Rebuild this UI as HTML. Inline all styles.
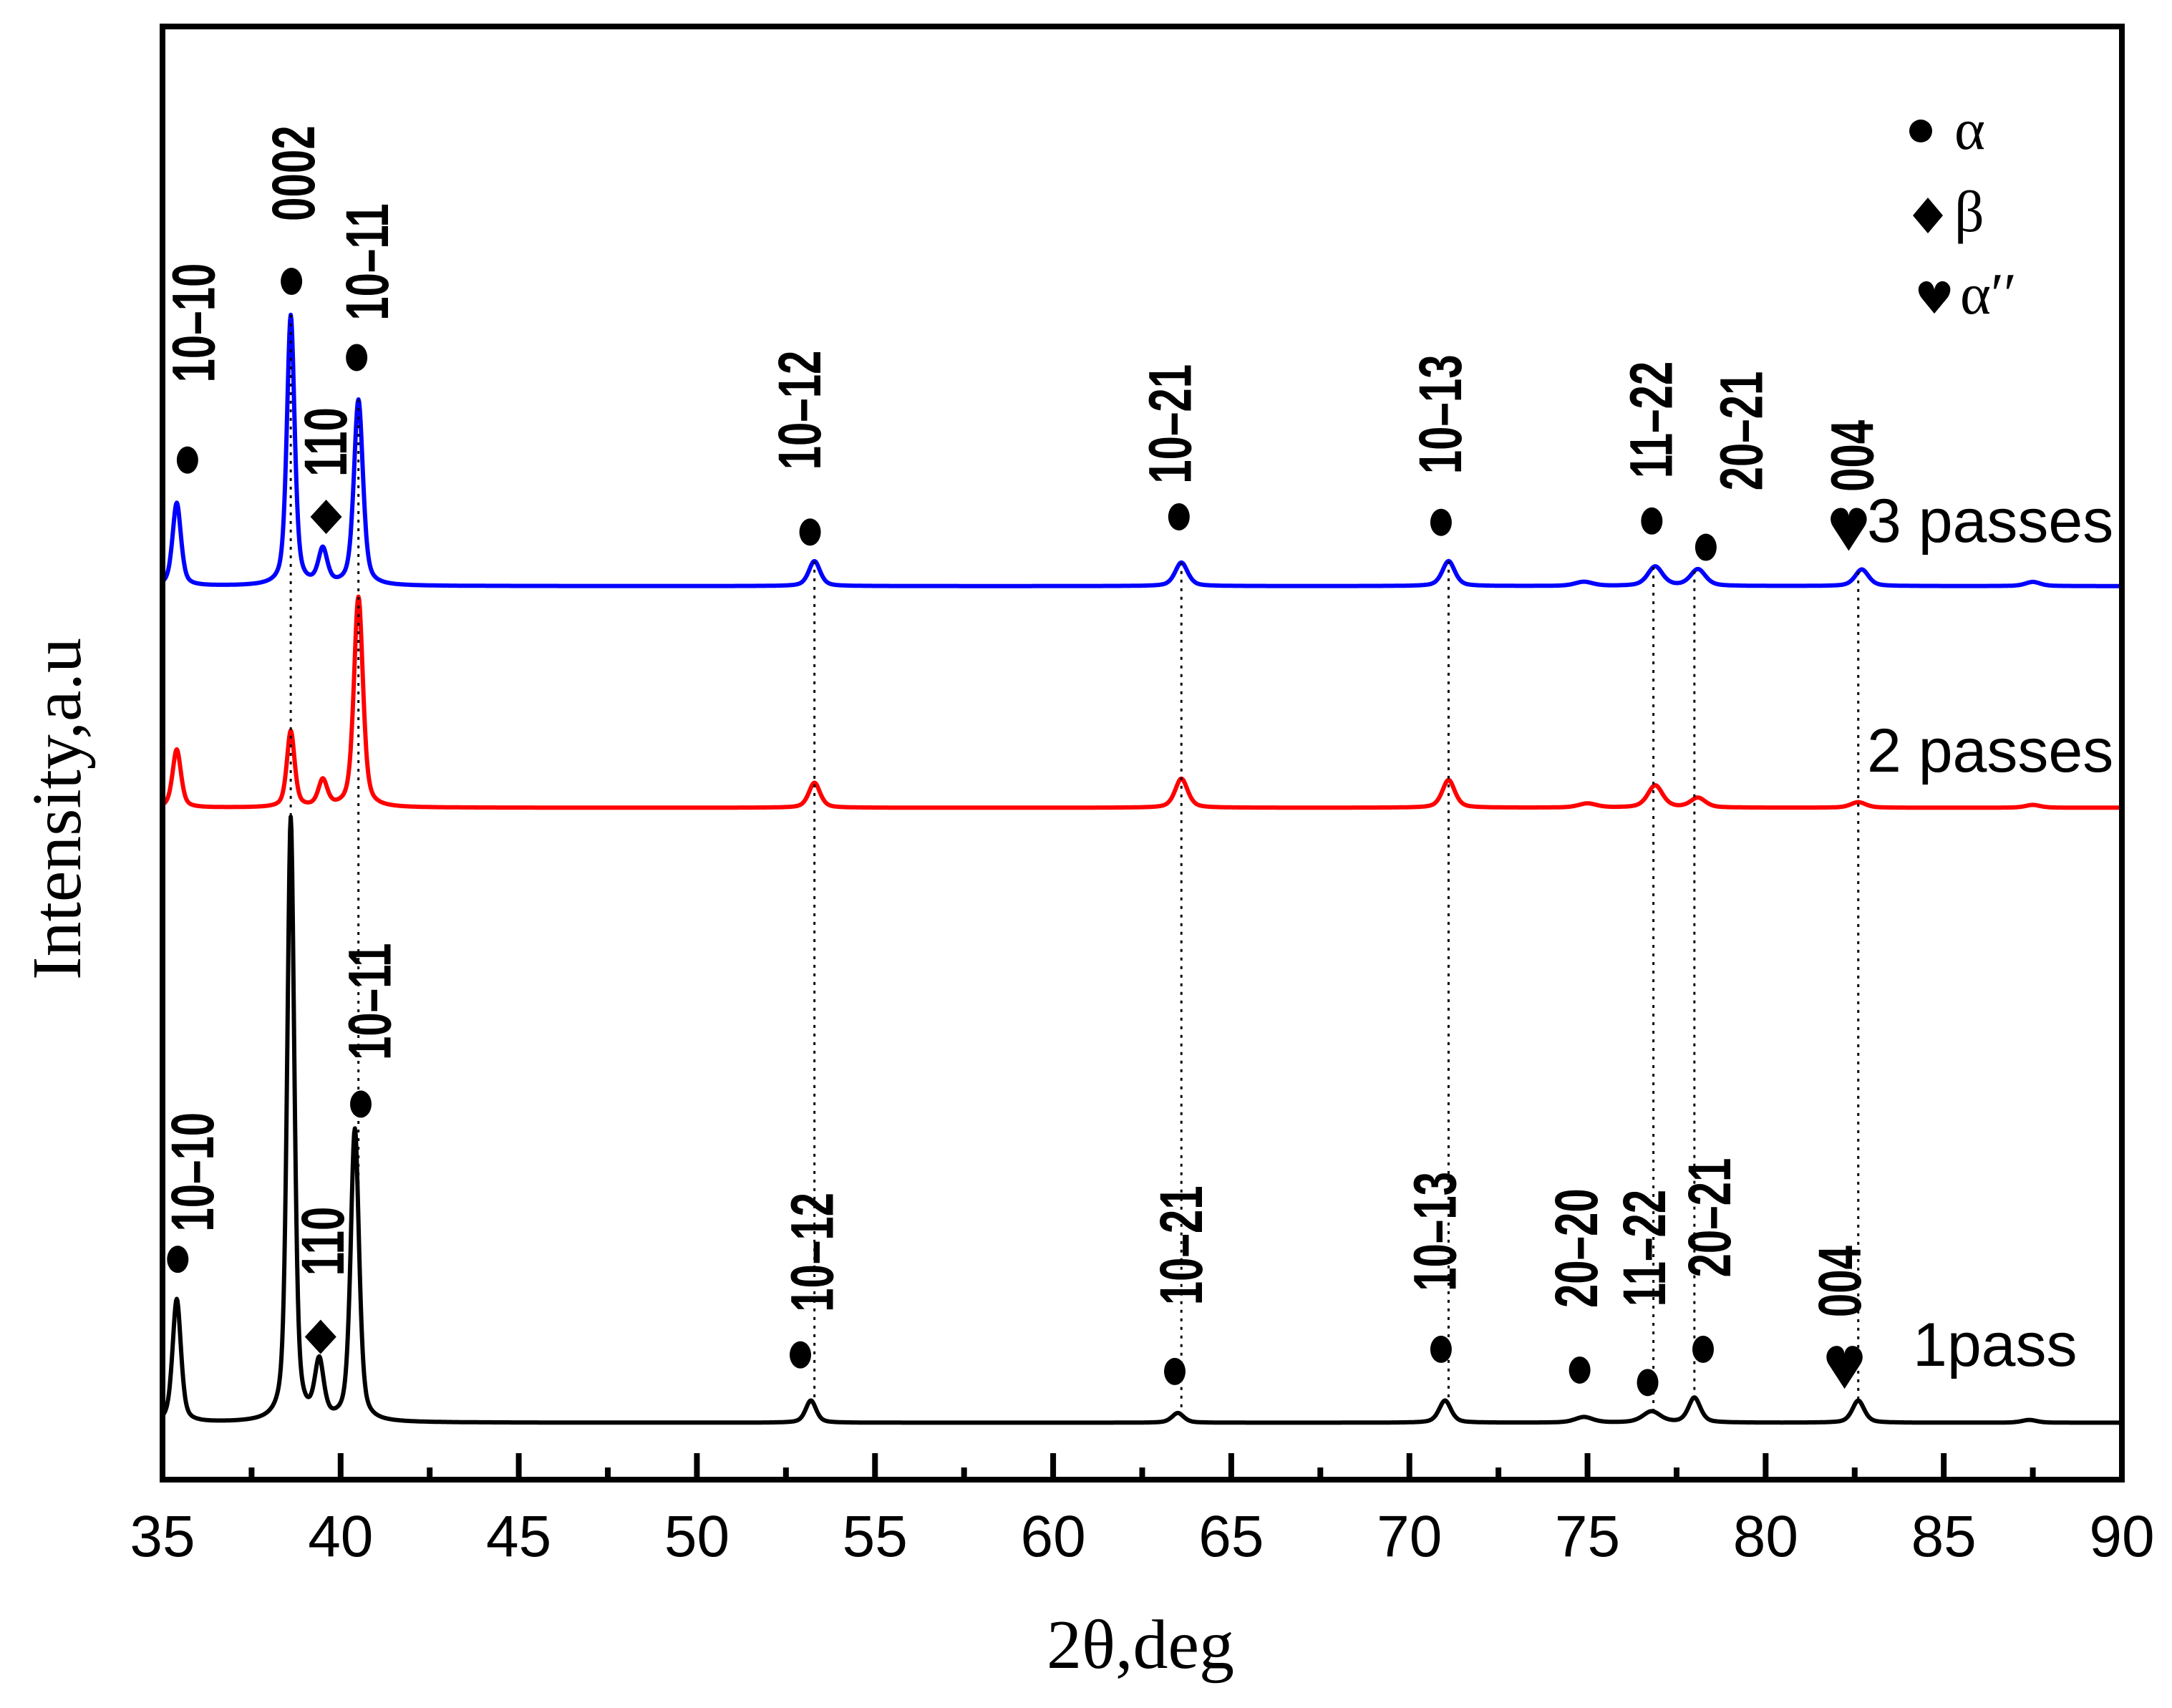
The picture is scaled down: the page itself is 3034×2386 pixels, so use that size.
<!DOCTYPE html>
<html><head><meta charset="utf-8"><style>
html,body{margin:0;padding:0;background:#fff;}
svg{display:block;}
</style></head><body>
<svg id="chart" xmlns="http://www.w3.org/2000/svg" width="3034" height="2386" viewBox="0 0 3034 2386">
<rect x="0" y="0" width="3034" height="2386" fill="#fff"/>
<g id="curves"></g>
<g id="dots"></g>
<g id="annot"></g>
<rect x="227" y="37" width="2737" height="2030" fill="none" stroke="#000" stroke-width="8"/>
<g id="xaxis"></g>
<text x="1593" y="2330" font-family="Liberation Serif, serif" font-size="98" text-anchor="middle">2θ,deg</text>
<text transform="translate(112,1130) rotate(-90)" font-family="Liberation Serif, serif" font-size="98" text-anchor="middle">Intensity,a.u</text>
<g>
<g>
<circle cx="2683" cy="183" r="16" fill="#000"/>
<text x="2730" y="208" font-family="Liberation Serif, serif" font-size="82">α</text></g>
<g>
<path d="M2693 276 L2714 301 L2693 326 L2672 301 Z" fill="#000"/>
<text x="2730" y="323" font-family="Liberation Serif, serif" font-size="82">β</text></g>
<g>
<text x="2702" y="438" font-family="DejaVu Sans, sans-serif" font-size="62" text-anchor="middle">♥</text>
<text x="2738" y="438" font-family="Liberation Serif, serif" font-size="82">α′′</text></g>
</g>
<text x="2608" y="757" font-family="Liberation Sans, sans-serif" font-size="86">3 passes</text>
<text x="2608" y="1078" font-family="Liberation Sans, sans-serif" font-size="86">2 passes</text>
<text x="2672" y="1908" font-family="Liberation Sans, sans-serif" font-size="86">1pass</text>
</svg>
<script>
// x-axis
const xTicks = [35,40,45,50,55,60,65,70,75,80,85,90];
// peak data per series (2theta, height in a.u., FWHM in deg)
const peakPos1 = [35.4,38.6,39.4,40.4,53.2,63.5,71.0,74.9,76.8,78.0,82.6,87.4];
const peakH1   = [89,436,41,211,16,7,16,4,8,18,16,2];
const peakW1   = [0.28,0.24,0.3,0.28,0.35,0.4,0.4,0.6,0.6,0.4,0.4,0.5];
const peakPos2 = [35.4,38.6,39.5,40.5,53.3,63.6,71.1,75.0,76.9,78.1,82.6,87.5];
const peakH2   = [42,55,19,152,18,21,20,3,16,7,4,2];
const peakW2   = [0.28,0.26,0.3,0.3,0.38,0.42,0.42,0.6,0.5,0.5,0.5,0.5];
const peakPos3 = [35.4,38.6,39.5,40.5,53.3,63.6,71.1,74.9,76.9,78.1,82.7,87.5];
const peakH3   = [60,195,25,134,18,17,18,3,14,12,12,3];
const peakW3   = [0.28,0.26,0.3,0.3,0.38,0.42,0.42,0.6,0.5,0.5,0.45,0.5];
const baselines = [1026,582,422]; // display-units baseline offsets per series
const colors = ['#000','#ff0000','#0000ff'];
const refLines = [38.6,40.5,53.3,63.6,71.1,76.85,78.0,82.6];

const X0=227, X1=2964, XMIN=35, XMAX=90;
function xS(v){return X0+(v-XMIN)*(X1-X0)/(XMAX-XMIN);}
function yD(d){return 37+(d-18)*1.935;}
function profile(pos,h,w,x){let s=0;for(let i=0;i<pos.length;i++){const t=(x-pos[i])/(w[i]/2);s+=h[i]*(0.5/(1+t*t)+0.5*Math.exp(-0.693*t*t));}return s;}
const series=[[peakPos1,peakH1,peakW1],[peakPos2,peakH2,peakW2],[peakPos3,peakH3,peakW3]];
const NS='http://www.w3.org/2000/svg';
function val(si,x){const s=series[si];return yD(baselines[si]-profile(s[0],s[1],s[2],x));}
const cg=document.getElementById('curves');
const names=['curve-1-pass','curve-2-passes','curve-3-passes'];
for(let si=0;si<3;si++){
  let d='';
  for(let x=XMIN;x<=XMAX+1e-9;x+=0.02){d+=(d?'L':'M')+xS(x).toFixed(1)+' '+val(si,x).toFixed(1);}
  const p=document.createElementNS(NS,'path');
  p.setAttribute('d',d);p.setAttribute('fill','none');p.setAttribute('stroke',colors[si]);
  p.setAttribute('stroke-width','6');p.setAttribute('stroke-linejoin','round');
  
  
  cg.appendChild(p);
}
const dg=document.getElementById('dots');
refLines.forEach(v=>{
  const l=document.createElementNS(NS,'line');
  l.setAttribute('x1',xS(v));l.setAttribute('x2',xS(v));
  l.setAttribute('y1',val(2,v));l.setAttribute('y2',val(0,v));
  l.setAttribute('stroke','#000');l.setAttribute('stroke-width','3');l.setAttribute('stroke-dasharray','4 8');
  
  
  dg.appendChild(l);
});
// annotations: [markerType, markerX(display), markerY(display), label, labelX(display), labelYcenter(display)]
const annots=[
 ['d',136,331,'10–10',141,232],['d',211,202,'0002',213,124],['d',258,257,'10–11',266,188],['m',236,372,'110',236,318],
 ['d',585,383,'10–12',578,295],['d',851,372,'10–21',845,305],['d',1040,376,'10–13',1040,298],['d',1192,375,'11–22',1192,302],
 ['d',1231,394,'20–21',1257,310],['h',1334,380,'004',1337,328],
 ['d',129,908,'10–10',140,845],['d',261,796,'10–11',268,722],['m',232,964,'110',234,895],['d',578,977,'10–12',587,903],
 ['d',848,989,'10–21',853,898],['d',1040,973,'10–13',1036,888],['d',1140,988,'20–20',1138,900],['d',1189,997,'11–22',1187,900],
 ['d',1229,973,'20–21',1234,878],['h',1331,985,'004',1328,924]
];
function xD(d){return 227+(d-118)*1.937;}
const ag=document.getElementById('annot');
annots.forEach(a=>{
  const mx=xD(a[1]),my=yD(a[2]);
  let m;
  if(a[0]==='d'){m=document.createElementNS(NS,'ellipse');m.setAttribute('cx',mx);m.setAttribute('cy',my);m.setAttribute('rx',15);m.setAttribute('ry',19);m.setAttribute('fill','#000');
    }
  else if(a[0]==='m'){m=document.createElementNS(NS,'path');m.setAttribute('d',`M${mx} ${my-24}L${mx+22} ${my}L${mx} ${my+24}L${mx-22} ${my}Z`);m.setAttribute('fill','#000');
    }
  else {m=document.createElementNS(NS,'path');
    m.setAttribute('d',`M${mx} ${my+32}L${mx-22} ${my-2}C${mx-30} ${my-14} ${mx-22} ${my-28} ${mx-11} ${my-28}C${mx-4} ${my-28} ${mx} ${my-22} ${mx} ${my-16}C${mx} ${my-22} ${mx+4} ${my-28} ${mx+11} ${my-28}C${mx+22} ${my-28} ${mx+30} ${my-14} ${mx+22} ${my-2}Z`);
    m.setAttribute('fill','#000');
    }
  
  ag.appendChild(m);
  const t=document.createElementNS(NS,'text');
  t.setAttribute('transform',`translate(${xD(a[4])},${yD(a[5])}) rotate(-90) scale(1,1.4)`);
  t.setAttribute('font-family','Liberation Sans, sans-serif');t.setAttribute('font-weight','bold');t.setAttribute('font-size','60');
  t.setAttribute('text-anchor','middle');t.setAttribute('dominant-baseline','central');
  t.textContent=a[3];
  
  
  ag.appendChild(t);
});
const xg=document.getElementById('xaxis');
for(let v=35;v<=90;v+=2.5){
  const major=(v%5===0);
  const l=document.createElementNS(NS,'line');
  l.setAttribute('x1',xS(v));l.setAttribute('x2',xS(v));l.setAttribute('y1',2067);l.setAttribute('y2',2067-(major?37:17));
  l.setAttribute('stroke','#000');l.setAttribute('stroke-width','8');
  
  
  xg.appendChild(l);
}
xTicks.forEach(v=>{
  const t=document.createElementNS(NS,'text');
  t.setAttribute('x',xS(v));t.setAttribute('y',2174);t.setAttribute('text-anchor','middle');
  t.setAttribute('font-family','Liberation Sans, sans-serif');t.setAttribute('font-size','82');
  t.textContent=v;
  
  
  xg.appendChild(t);
});
</script>
</body></html>
